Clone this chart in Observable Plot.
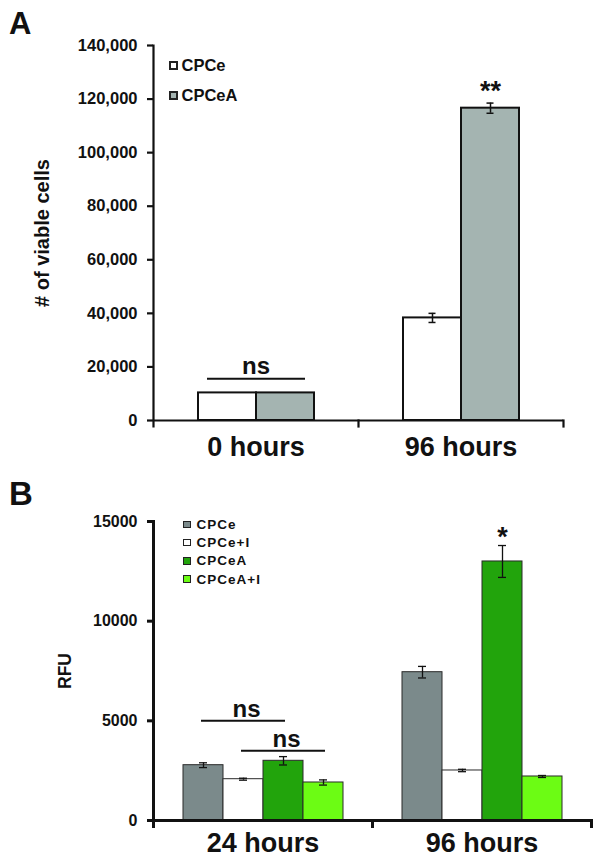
<!DOCTYPE html>
<html><head><meta charset="utf-8">
<script src="https://cdn.jsdelivr.net/npm/d3@7"></script>
<script src="https://cdn.jsdelivr.net/npm/@observablehq/plot@0.6"></script>
<style>
body{margin:0;background:#fff;}
#root{position:relative;width:600px;height:861px;overflow:hidden;background:#fff;font-family:"Liberation Sans",Arial,sans-serif;color:#111;}
.panel{position:absolute;left:0;}
.letter{position:absolute;left:9px;font-weight:bold;line-height:1;}
</style></head><body><div id="root"></div>
<script>
// ---------- Panel A data ----------
const timesA = ["0 hours", "96 hours"];
const seriesA = ["CPCe", "CPCeA"];
const valuesA = {CPCe: [10300, 38300], CPCeA: [10300, 116600]};
const errorsA = {CPCe: [0, 1700], CPCeA: [0, 1900]};
const colorsA = ["#ffffff", "#a4b4b1"];
const yTicksA = [0, 20000, 40000, 60000, 80000, 100000, 120000, 140000];
const nsA = [{time: "0 hours", from: "CPCe", to: "CPCeA", y: 15600, label: "ns"}];
const starsA = [{time: "96 hours", series: "CPCeA", label: "**"}];

// ---------- Panel B data ----------
const timesB = ["24 hours", "96 hours"];
const seriesB = ["CPCe", "CPCe+I", "CPCeA", "CPCeA+I"];
const valuesB = {"CPCe": [2775, 7440], "CPCe+I": [2072, 2509], "CPCeA": [2995, 12995], "CPCeA+I": [1907, 2208]};
const errorsB = {"CPCe": [120, 290], "CPCe+I": [50, 60], "CPCeA": [210, 800], "CPCeA+I": [130, 50]};
const colorsB = ["#7b8a8b", "#ffffff", "#22a40c", "#6cfc14"];
const yTicksB = [0, 5000, 10000, 15000];
const nsB = [
  {time: "24 hours", from: "CPCe", to: "CPCeA", at: "CPCe+I", y: 5000, label: "ns"},
  {time: "24 hours", from: "CPCe+I", to: "CPCeA+I", at: "CPCeA", y: 3500, label: "ns"}
];
const starsB = [{time: "96 hours", series: "CPCeA", label: "*"}];

const FONT = '"Liberation Sans", Arial, sans-serif';
const INK = "#111";

function table(times, series, values, errors) {
  return times.flatMap((t, i) => series.map(s => ({time: t, series: s, value: values[s][i], err: errors[s][i]})));
}
const dataA = table(timesA, seriesA, valuesA, errorsA);
const dataB = table(timesB, seriesB, valuesB, errorsB);

function starRows(stars, data) {
  return stars.map(s => {
    const d = data.find(r => r.time === s.time && r.series === s.series);
    return {...s, y: d.value + d.err};
  });
}

function panel(cfg) {
  const inner = cfg.height - cfg.marginTop - cfg.marginBottom;
  const errs = cfg.data.filter(d => d.err > 0);
  return Plot.plot({
    width: 600, height: cfg.height,
    marginLeft: cfg.marginLeft, marginRight: cfg.marginRight,
    marginTop: cfg.marginTop, marginBottom: cfg.marginBottom,
    style: {fontFamily: FONT, background: "white", color: INK, overflow: "visible"},
    fx: {domain: cfg.times, padding: 0},
    x: {domain: cfg.series, paddingInner: 0, paddingOuter: cfg.paddingOuter, axis: null},
    y: {domain: cfg.yDomain, axis: null},
    color: {domain: cfg.series, range: cfg.colors},
    marks: [
      Plot.barY(cfg.data, {fx: "time", x: "series", y: "value", fill: "series",
        stroke: cfg.barStroke, strokeWidth: cfg.barStrokeWidth, inset: 0}),
      Plot.ruleX(errs, {fx: "time", x: "series", y1: d => d.value - d.err, y2: d => d.value + d.err,
        stroke: INK, strokeWidth: cfg.errWidth}),
      Plot.tickY(errs, {fx: "time", x: "series", y: d => d.value - d.err, stroke: INK,
        strokeWidth: cfg.errWidth, insetLeft: cfg.capInset, insetRight: cfg.capInset}),
      Plot.tickY(errs, {fx: "time", x: "series", y: d => d.value + d.err, stroke: INK,
        strokeWidth: cfg.errWidth, insetLeft: cfg.capInset, insetRight: cfg.capInset}),
      // significance bars
      Plot.ruleY(cfg.ns, {fx: "time", x1: "from", x2: "to", y: "y", stroke: INK,
        strokeWidth: 2, insetLeft: cfg.nsInset, insetRight: cfg.nsInset}),
      Plot.text(cfg.ns, {fx: "time", x: cfg.nsAt, y: "y", text: "label", lineAnchor: "bottom",
        dy: cfg.nsDy, dx: cfg.nsDx, fontSize: cfg.nsSize, fontWeight: "bold", fill: INK}),
      Plot.text(starRows(cfg.stars, cfg.data), {fx: "time", x: "series", y: "y", text: "label",
        lineAnchor: "bottom", dy: cfg.starDy, fontSize: 27, fontWeight: "bold", fill: INK}),
      // axes
      Plot.ruleY([0], {stroke: INK, strokeWidth: cfg.axisWidth}),
      Plot.frame({anchor: "left", facetAnchor: "left", stroke: INK, strokeWidth: cfg.axisWidth, insetBottom: -6}),
      Plot.frame({anchor: "right", stroke: INK, strokeWidth: cfg.axisWidth, insetTop: inner, insetBottom: -6}),
      Plot.axisY({ticks: cfg.yTicks, tickFormat: cfg.tickFormat, tickSize: 6, tickPadding: 10,
        fontSize: cfg.tickSize, fontWeight: "bold", stroke: INK, strokeWidth: cfg.axisWidth, fill: INK, label: null}),
      Plot.axisFx({anchor: "bottom", tickSize: 0, tickPadding: cfg.fxPadding, fontSize: 27,
        fontWeight: "bold", fill: INK, label: null}),
      Plot.text([{time: cfg.times[0], label: cfg.yLabel}], {fx: "time", text: "label", frameAnchor: "left",
        textAnchor: "middle", lineAnchor: "middle",
        rotate: -90, dx: cfg.yLabelDx, fontSize: cfg.yLabelSize, fontWeight: "bold", fill: INK})
    ]
  });
}

const root = document.getElementById("root");

const svgA = panel({
  height: 470, marginLeft: 152, marginRight: 37, marginTop: 45, marginBottom: 50,
  times: timesA, series: seriesA, data: dataA, colors: colorsA, paddingOuter: 0.757,
  yDomain: [0, 140000], yTicks: yTicksA, tickFormat: d3.format(","), tickSize: 16.5,
  barStroke: INK, barStrokeWidth: 2, errWidth: 1.5, capInset: 25.5, axisWidth: 2.2,
  ns: nsA, nsAt: undefined, nsInset: 9, nsDy: -5, nsDx: 0, nsSize: 24,
  stars: starsA, starDy: -3, fxPadding: 16,
  yLabel: "# of viable cells", yLabelDx: -111, yLabelSize: 20
});
const wrapA = document.createElement("div");
wrapA.className = "panel"; wrapA.style.top = "0px";
wrapA.append(svgA);
root.append(wrapA);

const svgB = panel({
  height: 391, marginLeft: 152, marginRight: 9, marginTop: 51, marginBottom: 41,
  times: timesB, series: seriesB, data: dataB, colors: colorsB, paddingOuter: 0.73,
  yDomain: [0, 15000], yTicks: yTicksB, tickFormat: d3.format("d"), tickSize: 16,
  barStroke: "#2a2a2a", barStrokeWidth: 1, errWidth: 1.3, capInset: 16, axisWidth: 3,
  ns: nsB, nsAt: "at", nsInset: 18, nsDy: -4, nsDx: 3, nsSize: 24,
  stars: starsB, starDy: 0, fxPadding: 12,
  yLabel: "RFU", yLabelDx: -88, yLabelSize: 17.5
});
const wrapB = document.createElement("div");
wrapB.className = "panel"; wrapB.style.top = "470px";
wrapB.append(svgB);
root.append(wrapB);

// legends
function legend(items, colors, o) {
  items.forEach((name, i) => {
    const row = document.createElement("div");
    row.style.cssText = `position:absolute;left:${o.left}px;top:${o.top + i * o.step - o.rowH / 2}px;height:${o.rowH}px;display:flex;align-items:center;font-weight:bold;font-size:${o.fontSize}px;letter-spacing:${o.ls}px;white-space:nowrap;color:${INK};`;
    const sw = document.createElement("span");
    sw.style.cssText = `display:inline-block;flex:none;width:${o.sw}px;height:${o.sw}px;box-sizing:border-box;border:${o.border}px solid #222;background:${colors[i]};margin-right:${o.gap}px;`;
    row.append(sw, document.createTextNode(name));
    root.append(row);
  });
}
legend(seriesA, colorsA, {left: 168.5, top: 65, step: 30, rowH: 20, fontSize: 16.5, ls: 0, sw: 9, border: 2, gap: 4});
legend(seriesB, colorsB, {left: 183, top: 524.5, step: 18.2, rowH: 16, fontSize: 13.5, ls: 1, sw: 7.5, border: 1, gap: 6});

// panel letters
function letter(ch, top, size) {
  const d = document.createElement("div");
  d.className = "letter";
  d.style.top = top + "px";
  d.style.fontSize = size + "px";
  d.textContent = ch;
  root.append(d);
}
letter("A", 7.6, 31);
letter("B", 477.4, 33);
</script>
</body></html>
